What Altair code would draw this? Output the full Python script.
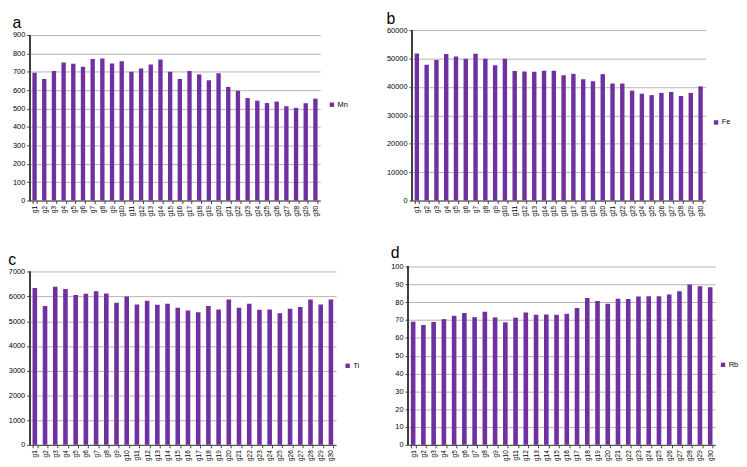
import altair as alt
import pandas as pd

groups = ["g1", "g2", "g3", "g4", "g5", "g6", "g7", "g8", "g9", "g10",
          "g11", "g12", "g13", "g14", "g15", "g16", "g17", "g18", "g19", "g20",
          "g21", "g22", "g23", "g24", "g25", "g26", "g27", "g28", "g29", "g30"]

mn = [695, 661, 704, 751, 744, 728, 769, 772, 745, 758, 700, 718, 740, 767, 700,
      661, 704, 686, 654, 692, 618, 597, 557, 543, 530, 538, 513, 504, 529, 554]
fe = [51800, 47800, 49500, 51600, 50700, 49900, 51700, 49900, 47600, 49900,
      45600, 45400, 45300, 45700, 45700, 44100, 44600, 42700, 42000, 44500,
      41200, 41200, 38700, 37600, 37100, 37900, 38200, 36800, 37900, 40200]
ti = [6350, 5620, 6400, 6310, 6060, 6110, 6220, 6120, 5750, 6000,
      5680, 5830, 5670, 5710, 5550, 5440, 5370, 5620, 5480, 5880,
      5550, 5710, 5470, 5480, 5330, 5510, 5580, 5880, 5680, 5880]
rb = [69.1, 67.2, 68.9, 70.5, 72.4, 74.0, 71.6, 74.6, 71.5, 68.7,
      71.3, 74.2, 72.9, 73.1, 72.9, 73.5, 76.8, 82.3, 80.7, 79.2,
      82.0, 81.8, 83.2, 83.4, 83.4, 84.3, 86.2, 89.9, 89.0, 88.4]

mn_ticks = [0, 100, 200, 300, 400, 500, 600, 700, 800, 900]
fe_ticks = [0, 10000, 20000, 30000, 40000, 50000, 60000]
ti_ticks = [0, 1000, 2000, 3000, 4000, 5000, 6000, 7000]
rb_ticks = [0, 10, 20, 30, 40, 50, 60, 70, 80, 90, 100]

PURPLE = "#7030A0"
AXIS = "#404040"
FONT = "Liberation Sans"


def panel(values, name, letter, ticks, width, height, scale_top, title_offset,
          legend_x, legend_y):
    df = pd.DataFrame({"g": groups, "v": values, "s": [name] * len(groups)})
    yscale = alt.Scale(domain=[ticks[0], scale_top], nice=False)
    bars = alt.Chart(df).mark_bar().encode(
        x=alt.X("g:N", sort=groups,
                scale=alt.Scale(paddingInner=0.55, paddingOuter=0.28),
                axis=alt.Axis(title=None, labelAngle=-90, labelPadding=2,
                              labelFontSize=6.5, grid=False, tickBand="extent")),
        y=alt.Y("v:Q", scale=yscale,
                axis=alt.Axis(title=None, values=ticks, grid=True, domain=False,
                              format="d", labelFontSize=7.5, labelOverlap=False)),
        color=alt.Color("s:N", scale=alt.Scale(range=[PURPLE]),
                        legend=alt.Legend(title=None, orient="none",
                                          legendX=legend_x, legendY=legend_y)),
    )
    axis_line = alt.Chart(df).mark_rule(color=AXIS, strokeWidth=1).encode(
        x=alt.value(0),
        y=alt.datum(ticks[0], scale=yscale, axis=None),
        y2=alt.datum(ticks[-1]),
    )
    return alt.layer(
        bars, axis_line,
        title=alt.TitleParams(letter, anchor="start", fontSize=16, font=FONT,
                              fontWeight="normal", color="#000",
                              offset=title_offset),
    ).resolve_axis(y="independent").properties(width=width, height=height)


a = panel(mn, "Mn", "a", mn_ticks, 295, 173, 900 * 173 / 168, -1, 303, 72)
b = panel(fe, "Fe", "b", fe_ticks, 298, 173, 60000, -1, 305, 90)
c = panel(ti, "Ti", "c", ti_ticks, 311, 181, 7000 * 181 / 175.6, -1, 319, 97)
d = panel(rb, "Rb", "d", rb_ticks, 312, 181, 100, 2, 316, 96)

chart = alt.vconcat(
    alt.hconcat(a, b, spacing=39).resolve_scale(color="independent"),
    alt.hconcat(c, d, spacing=31).resolve_scale(color="independent"),
    spacing=29,
).resolve_scale(color="independent").properties(padding=0).configure_view(
    stroke=None
).configure_axis(
    labelFont=FONT, labelColor="#000",
    gridColor="#b5b5b5", gridWidth=1,
    domainColor=AXIS, tickColor=AXIS, tickSize=3,
).configure_legend(
    labelFont=FONT, labelFontSize=7.5, labelColor="#000",
    symbolType="square", symbolSize=20, symbolStrokeWidth=0, labelOffset=2,
)

chart.save("out.html", embed_options={"renderer": "svg", "actions": False})
